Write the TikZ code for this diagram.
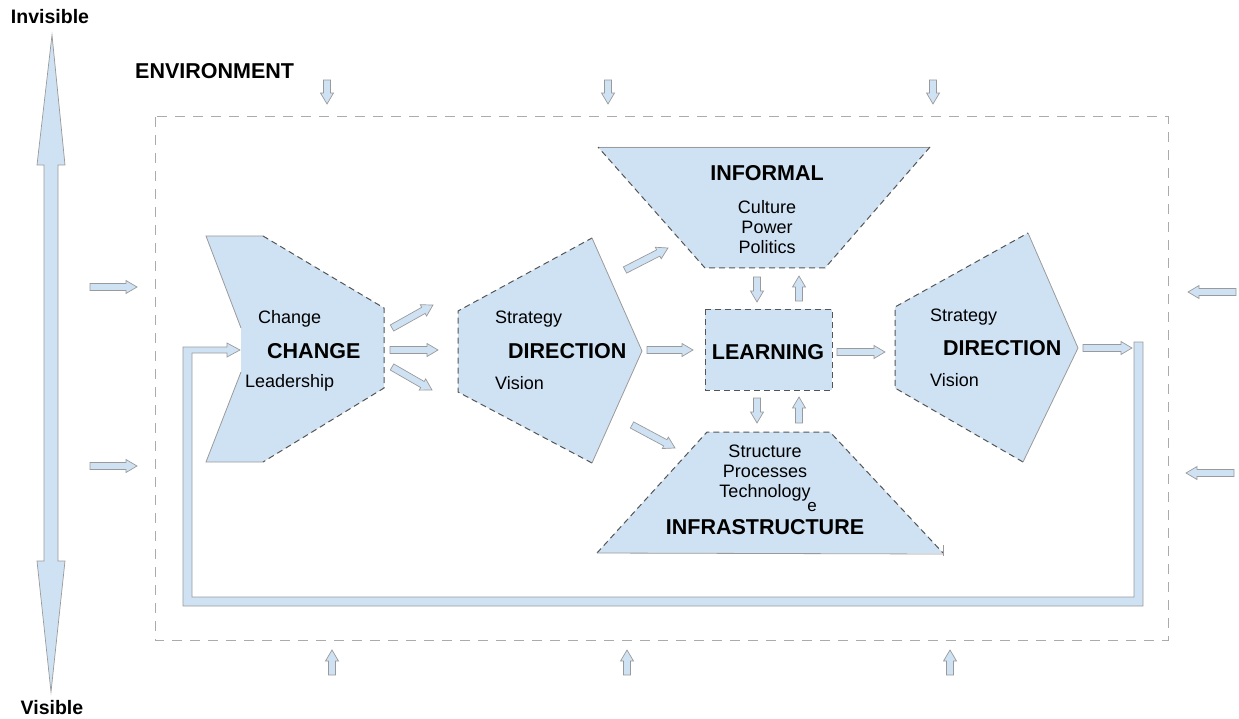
\documentclass[tikz,border=0pt]{standalone}
\usepackage{fontspec}
\setmainfont{Liberation Sans}
\usetikzlibrary{calc}
\definecolor{fillb}{HTML}{CFE2F3}
\definecolor{edgec}{HTML}{9A9A9A}
\definecolor{dashc}{HTML}{555555}
\definecolor{envc}{HTML}{ABABAB}
\tikzset{
  shapefill/.style={fill=fillb, draw=none},
  solidedge/.style={draw=edgec, line width=0.8pt},
  dashedge/.style={draw=dashc, line width=1pt, dash pattern=on 6pt off 4pt},
  envbox/.style={draw=envc, line width=1pt, dash pattern=on 10pt off 8pt},
  barrow/.style={fill=fillb, draw=edgec, line width=0.7pt, line join=miter},
  hdr/.style={font=\fontsize{21.5}{24}\selectfont\bfseries, inner sep=0pt},
  sidehdr/.style={font=\fontsize{19.5}{22}\selectfont\bfseries, inner sep=0pt},
  txt/.style={font=\fontsize{18}{20}\selectfont, inner sep=0pt, align=center},
  pics/blk/.style={code={\draw[barrow] (0,-3.5) -- (#1-11,-3.5) -- (#1-11,-6.5) -- (#1,0) -- (#1-11,6.5) -- (#1-11,3.5) -- (0,3.5) -- cycle;}}
}
\newcommand\blkarrow[2]{\path let \p1=(#1), \p2=(#2), \n1={atan2(\y2-\y1,\x2-\x1)}, \n2={veclen(\x2-\x1,\y2-\y1)} in pic[rotate=\n1] at (#1) {blk=\n2};}
\begin{document}
\begin{tikzpicture}[x=1pt, y=-1pt]
\useasboundingbox (0,0) rectangle (1239,719);

% vertical invisible/visible arrow
\draw[barrow] (52,35) -- (65,165) -- (58,165) -- (58,561) -- (65,561) -- (51,692) -- (37,561) -- (44,561) -- (44,165) -- (37,165) -- cycle;
\node[sidehdr] (invis) at (50,17) {Invisible};
\node[sidehdr] (vis) at (52,708) {Visible};

% environment
\node[hdr, anchor=west] (env) at (135,71) {ENVIRONMENT};
\draw[envbox] (155,117) rectangle (1168,640);

% environment arrows
\blkarrow{327,80}{327,104}
\blkarrow{608,80}{608,104}
\blkarrow{933,80}{933,104}
\blkarrow{332,675}{332,650}
\blkarrow{627,675}{627,650}
\blkarrow{950,675}{950,650}
\blkarrow{90,287}{137,287}
\blkarrow{90,466}{137,466}
\blkarrow{1236,292}{1188,292}
\blkarrow{1234,473}{1186,473}

% feedback loop
\draw[barrow] (183,347) -- (183,606) -- (1143,606) -- (1143,342) -- (1134,342) -- (1134,597) -- (192,597) -- (192,353) -- (227,353) -- (227,357) -- (240,350) -- (227,343) -- (227,347) -- cycle;

% CHANGE shape
\fill[shapefill] (206,236) -- (263,236) -- (384,308) -- (384,388) -- (263,462) -- (206,462) -- (241,372) -- (241,328) -- cycle;
\draw[solidedge] (263,236) -- (206,236) -- (241,328) (241,372) -- (206,462) -- (263,462);
\draw[dashedge] (263,236) -- (384,308) -- (384,388) -- (263,462);
\node[txt, anchor=west] (chg1) at (258,319) {Change};
\node[hdr, anchor=west] (chg) at (267,351) {CHANGE};
\node[txt, anchor=west] (chg2) at (245,383) {Leadership};

% DIRECTION 1
\fill[shapefill] (458,311) -- (592,238) -- (642,351) -- (592,463) -- (458,392) -- cycle;
\draw[dashedge] (592,463) -- (458,392) -- (458,311) -- (592,238);
\draw[solidedge] (592,238) -- (642,351) -- (592,463);
\node[txt, anchor=west] (d1a) at (495,319) {Strategy};
\node[hdr, anchor=west] (d1) at (508,351) {DIRECTION};
\node[txt, anchor=west] (d1b) at (495,383) {Vision};

% DIRECTION 2
\fill[shapefill] (895,307) -- (1028,233) -- (1078,348) -- (1023,462) -- (895,388) -- cycle;
\draw[dashedge] (1023,462) -- (895,388) -- (895,307) -- (1028,233);
\draw[solidedge] (1028,233) -- (1078,348) -- (1023,462);
\node[txt, anchor=west] (d2a) at (930,317) {Strategy};
\node[hdr, anchor=west] (d2) at (943,348) {DIRECTION};
\node[txt, anchor=west] (d2b) at (930,380) {Vision};

% INFORMAL
\fill[shapefill] (598,147) -- (930,147) -- (825,268) -- (705,268) -- cycle;
\draw[solidedge] (598,147) -- (930,147);
\draw[dashedge] (930,147) -- (825,268) -- (705,268) -- (598,147);
\node[hdr] (inf) at (767,173) {INFORMAL};
\node[txt] (inft) at (767,227) {Culture\\Power\\Politics};

% LEARNING
\fill[shapefill] (705,309) rectangle (832,390);
\draw[dashedge] (705,309) rectangle (832,390);
\node[hdr] (lrn) at (768,352) {LEARNING};

% INFRASTRUCTURE
\fill[shapefill] (707,432) -- (830,432) -- (943,553) -- (597,553) -- cycle;
\draw[dashedge] (597,553) -- (707,432) -- (830,432) -- (943,553);
\draw[solidedge] (597,553) -- (943,554);
\draw[solidedge] (943,545) -- (943,556);
\node[txt] (infrt) at (765,473) {Structure\\Processes\\Technology};
\node[font=\fontsize{17}{19}\selectfont, inner sep=0pt] (e) at (812,507) {e};
\node[hdr] (infr) at (765,527) {INFRASTRUCTURE};

% connectors
\coordinate (c1s) at (392,328); \coordinate (c1e) at (433,305);
\coordinate (c2s) at (390,350); \coordinate (c2e) at (438,350);
\coordinate (c3s) at (392,367); \coordinate (c3e) at (432,390);
\blkarrow{c1s}{c1e}
\blkarrow{c2s}{c2e}
\blkarrow{c3s}{c3e}
\coordinate (d1u) at (625,270); \coordinate (infin) at (668,248);
\coordinate (d1d) at (632,425); \coordinate (infrin) at (675,448);
\coordinate (d1r) at (647,350); \coordinate (lrnl) at (693,350);
\coordinate (lrnr) at (837,352); \coordinate (d2l) at (885,352);
\coordinate (d2r) at (1083,348); \coordinate (loopin) at (1132,348);
\blkarrow{d1u}{infin}
\blkarrow{d1d}{infrin}
\blkarrow{d1r}{lrnl}
\blkarrow{lrnr}{d2l}
\blkarrow{d2r}{loopin}
% vertical exchange arrows
\coordinate (a1) at (757,277); \coordinate (a2) at (757,302);
\coordinate (a3) at (799,301); \coordinate (a4) at (799,276);
\coordinate (a5) at (757,398); \coordinate (a6) at (757,423);
\coordinate (a7) at (799,423); \coordinate (a8) at (799,397);
\blkarrow{a1}{a2}
\blkarrow{a3}{a4}
\blkarrow{a5}{a6}
\blkarrow{a7}{a8}
\end{tikzpicture}
\end{document}
